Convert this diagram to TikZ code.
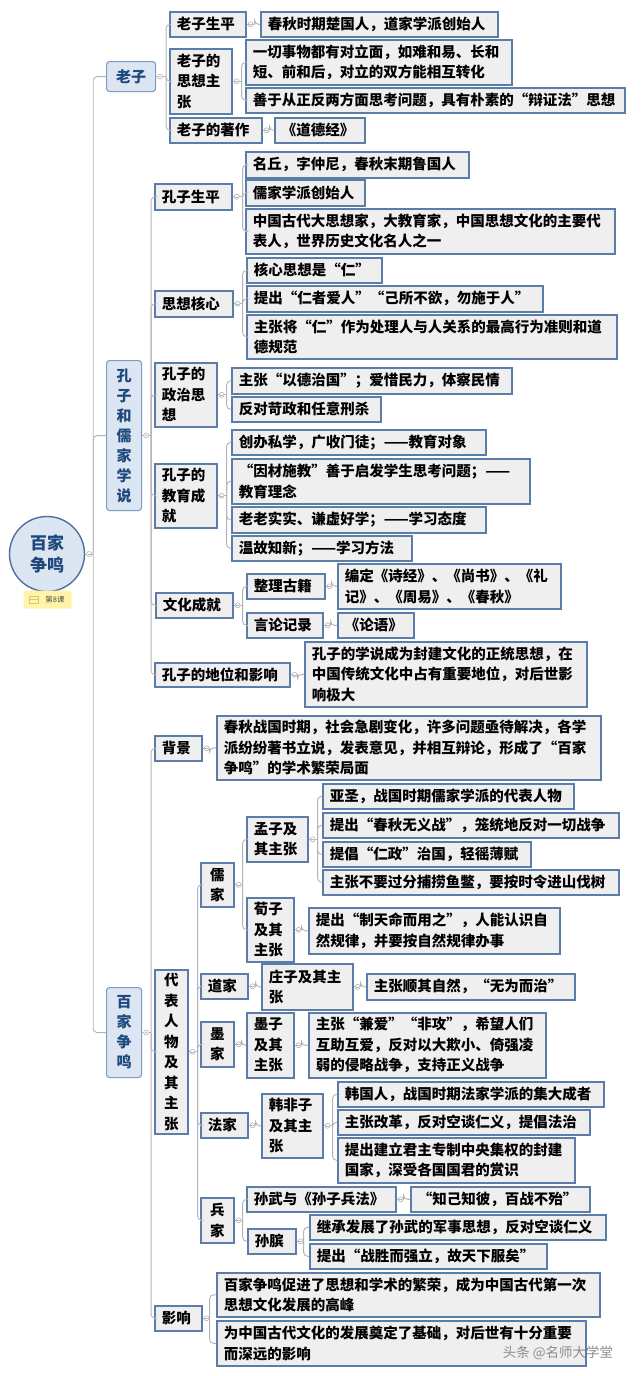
\documentclass[tikz,border=0pt]{standalone}
\usepackage{fontspec}
\setmainfont{Noto Sans CJK SC}
\usetikzlibrary{calc}
\definecolor{bordc}{HTML}{5B7DA8}
\definecolor{leaffill}{HTML}{EFEFEF}
\definecolor{lonefill}{HTML}{DCE6F2}
\definecolor{lonebord}{HTML}{7E9CC2}
\definecolor{lonetext}{HTML}{1F497D}
\definecolor{rootbord}{HTML}{4F6FA0}
\definecolor{connc}{HTML}{B4B4B4}
\definecolor{tagfill}{HTML}{FFF4A8}
\definecolor{tagicon}{HTML}{D8C778}
\tikzset{
  leaf/.style={draw=bordc, line width=1.6pt, fill=leaffill, inner xsep=7pt, inner ysep=0pt,
    align=left, font=\fontsize{14.5}{20.5}\selectfont\bfseries, text=black},
  vleaf/.style={leaf, align=center, inner xsep=0pt},
  lone/.style={draw=lonebord, line width=1.1pt, fill=lonefill, rounded corners=3pt,
    inner xsep=0pt, inner ysep=0pt, align=center, font=\fontsize{15}{20}\selectfont\bfseries, text=lonetext},
  rootnode/.style={circle, draw=rootbord, line width=1.4pt, fill=lonefill, minimum size=75pt,
    inner sep=0pt, align=center, font=\fontsize{17}{22}\selectfont\bfseries, text=lonetext},
  conn/.style={draw=connc, line width=0.9pt, rounded corners=4pt},
  knob/.style={circle, draw=connc, fill=white, line width=0.6pt, inner sep=0pt, minimum size=5pt,
    path picture={\draw[connc, line width=0.5pt] ([xshift=-1.3pt]path picture bounding box.center) -- ([xshift=1.3pt]path picture bounding box.center);}},
  tagbox/.style={draw=none, fill=tagfill, rounded corners=1.5pt, inner sep=0pt},
}
\newcommand\bx[7][leaf]{%
  \pgfmathsetmacro\bxw{#5-#3}%
  \pgfmathsetmacro\bxh{#6-#4}%
  \pgfmathsetmacro\bxt{#5-#3-14}%
  \node[#1, anchor=north west, minimum width=\bxw pt, minimum height=\bxh pt, text width=\bxt pt] (#2) at (#3,#4) {#7};}
\newcommand\link[3]{%
  \coordinate (#1-s) at ($(#1.east)+(#2,0)$);
  \draw[conn] (#1.east) -- (#1-s);
  \foreach \ch in {#3} { \draw[conn] (#1-s) |- (\ch.west); }
  \node[knob] at ($(#1.east)+(4,0)$) {};
}
\begin{document}
\begin{tikzpicture}[x=1pt,y=-1pt]
\fill[white] (0,0) rectangle (640,1376);
\useasboundingbox (0,0) rectangle (640,1376);

% root
\node[rootnode] (root) at (47,554) {百家\\争鸣};
\node[tagbox, minimum width=48pt, minimum height=18pt] (tag) at (47.5,599.5) {};
\node[font=\fontsize{7.5}{8}\selectfont, text=black!70] (tagtxt) at (55,599.5) {第8课};
\draw[tagicon, line width=0.7pt] (29.5,596) rectangle (38.5,603.5);
\draw[tagicon, line width=0.7pt] (29.5,599.7) -- (38.5,599.7);

% level 1
\bx[lone]{laozi}{106}{61}{155}{91}{老子}
\bx[lone]{kongzi}{106}{360}{141}{510}{孔\\子\\和\\儒\\家\\学\\说}
\bx[lone]{baijia}{106}{987}{141}{1077}{百\\家\\争\\鸣}

% Laozi
\bx{lzsp}{169}{11}{245}{36}{老子生平}
\bx{lzsp1}{260}{11}{497}{36}{春秋时期楚国人，道家学派创始人}
\bx{lzsx}{169}{48}{231}{113}{老子的\\思想主\\张}
\bx{lzsx1}{245}{39}{511}{84}{一切事物都有对立面，如难和易、长和\\短、前和后，对立的双方能相互转化}
\bx{lzsx2}{245}{87}{624}{112}{善于从正反两方面思考问题，具有朴素的“辩证法”思想}
\bx{lzzz}{169}{117}{261}{142}{老子的著作}
\bx{lzzz1}{274}{117}{364}{142}{《道德经》}

% Kongzi
\bx{kzsp}{154}{183}{231}{209}{孔子生平}
\bx{kzsp1}{245}{151}{468}{177}{名丘，字仲尼，春秋末期鲁国人}
\bx{kzsp2}{245}{179}{364}{205}{儒家学派创始人}
\bx{kzsp3}{245}{208}{614}{253}{中国古代大思想家，大教育家，中国思想文化的主要代\\表人，世界历史文化名人之一}
\bx{sxhx}{154}{290}{232}{316}{思想核心}
\bx{sxhx1}{246}{257}{381}{282}{核心思想是“仁”}
\bx{sxhx2}{246}{285}{542}{311}{提出“仁者爱人”“己所不欲，勿施于人”}
\bx{sxhx3}{246}{314}{616}{358}{主张将“仁”作为处理人与人关系的最高行为准则和道\\德规范}
\bx{zzsx}{154}{362}{216}{426}{孔子的\\政治思\\想}
\bx{zzsx1}{231}{367}{511}{393}{主张“以德治国”；爱惜民力，体察民情}
\bx{zzsx2}{231}{396}{380}{421}{反对苛政和任意刑杀}
\bx{jycj}{154}{463}{216}{527}{孔子的\\教育成\\就}
\bx{jycj1}{231}{429}{485}{454}{创办私学，广收门徒；——教育对象}
\bx{jycj2}{231}{458}{529}{503}{“因材施教”善于启发学生思考问题；——\\教育理念}
\bx{jycj3}{231}{506}{485}{532}{老老实实、谦虚好学；——学习态度}
\bx{jycj4}{231}{535}{411}{560}{温故知新；——学习方法}
\bx{whcj}{155}{592}{232}{617}{文化成就}
\bx{zlgj}{246}{573}{324}{598}{整理古籍}
\bx{zlgj1}{337}{563}{560}{608}{编定《诗经》、《尚书》、《礼\\记》、《周易》、《春秋》}
\bx{ylj}{246}{612}{322}{637}{言论记录}
\bx{ylj1}{337}{612}{413}{637}{《论语》}
\bx{dwyx}{154}{662}{289}{686}{孔子的地位和影响}
\bx{dwyx1}{304}{641}{586}{706}{孔子的学说成为封建文化的正统思想，在\\中国传统文化中占有重要地位，对后世影\\响极大}

% Baijia
\bx{bj}{154}{735}{201}{760}{背景}
\bx{bj1}{216}{715}{600}{779}{春秋战国时期，社会急剧变化，许多问题亟待解决，各学\\派纷纷著书立说，发表意见，并相互辩论，形成了“百家\\争鸣”的学术繁荣局面}
\bx[vleaf]{dbrw}{154}{969}{187}{1133}{代\\表\\人\\物\\及\\其\\主\\张}
\bx[vleaf]{rj}{200}{862}{233}{906}{儒\\家}
\bx{mz}{246}{816}{307}{861}{孟子及\\其主张}
\bx{mz1}{322}{783}{573}{808}{亚圣，战国时期儒家学派的代表人物}
\bx{mz2}{322}{812}{618}{837}{提出“春秋无义战”，笼统地反对一切战争}
\bx{mz3}{322}{841}{530}{866}{提倡“仁政”治国，轻徭薄赋}
\bx{mz4}{322}{869}{618}{894}{主张不要过分捕捞鱼鳖，要按时令进山伐树}
\bx{xz}{246}{897}{293}{961}{荀子\\及其\\主张}
\bx{xz1}{308}{907}{559}{953}{提出“制天命而用之”，人能认识自\\然规律，并要按自然规律办事}
\bx{dj}{200}{973}{247}{998}{道家}
\bx{zz}{261}{963}{352}{1009}{庄子及其主\\张}
\bx{zz1}{366}{973}{574}{999}{主张顺其自然，“无为而治”}
\bx[vleaf]{moj}{200}{1021}{233}{1066}{墨\\家}
\bx{moz}{246}{1012}{293}{1077}{墨子\\及其\\主张}
\bx{moz1}{308}{1012}{545}{1077}{主张“兼爱”“非攻”，希望人们\\互助互爱，反对以大欺小、倚强凌\\弱的侵略战争，支持正义战争}
\bx{fj}{200}{1112}{247}{1137}{法家}
\bx{hfz}{261}{1093}{322}{1157}{韩非子\\及其主\\张}
\bx{hfz1}{337}{1081}{603}{1106}{韩国人，战国时期法家学派的集大成者}
\bx{hfz2}{337}{1109}{589}{1134}{主张改革，反对空谈仁义，提倡法治}
\bx{hfz3}{337}{1137}{574}{1182}{提出建立君主专制中央集权的封建\\国家，深受各国国君的赏识}
\bx[vleaf]{bingj}{200}{1197}{233}{1242}{兵\\家}
\bx{sw}{246}{1186}{395}{1211}{孙武与《孙子兵法》}
\bx{sw1}{410}{1186}{589}{1211}{“知己知彼，百战不殆”}
\bx{sb}{247}{1228}{295}{1253}{孙膑}
\bx{sb1}{309}{1214}{605}{1239}{继承发展了孙武的军事思想，反对空谈仁义}
\bx{sb2}{309}{1243}{546}{1268}{提出“战胜而强立，故天下服矣”}
\bx{yx}{154}{1305}{201}{1330}{影响}
\bx{yx1}{216}{1272}{599}{1316}{百家争鸣促进了思想和学术的繁荣，成为中国古代第一次\\思想文化发展的高峰}
\bx{yx2}{216}{1320}{585}{1365}{为中国古代文化的发展奠定了基础，对后世有十分重要\\而深远的影响}

% connectors
\link{root}{8}{laozi,kongzi,baijia}
\link{laozi}{10}{lzsp,lzsx,lzzz}
\link{lzsp}{8}{lzsp1}
\link{lzsx}{9}{lzsx1,lzsx2}
\link{lzzz}{7}{lzzz1}
\link{kongzi}{9}{kzsp,sxhx,zzsx,jycj,whcj,dwyx}
\link{kzsp}{10}{kzsp1,kzsp2,kzsp3}
\link{sxhx}{9}{sxhx1,sxhx2,sxhx3}
\link{zzsx}{9}{zzsx1,zzsx2}
\link{jycj}{9}{jycj1,jycj2,jycj3,jycj4}
\link{whcj}{9}{zlgj,ylj}
\link{zlgj}{6}{zlgj1}
\link{ylj}{7}{ylj1}
\link{dwyx}{7}{dwyx1}
\link{baijia}{9}{bj,dbrw,yx}
\link{bj}{7}{bj1}
\link{dbrw}{9}{rj,dj,moj,fj,bingj}
\link{rj}{8}{mz,xz}
\link{mz}{9}{mz1,mz2,mz3,mz4}
\link{xz}{7}{xz1}
\link{dj}{7}{zz}
\link{zz}{7}{zz1}
\link{moj}{7}{moz}
\link{moz}{7}{moz1}
\link{fj}{7}{hfz}
\link{hfz}{9}{hfz1,hfz2,hfz3}
\link{bingj}{8}{sw,sb}
\link{sw}{7}{sw1}
\link{sb}{7}{sb1,sb2}
\link{yx}{7}{yx1,yx2}

% watermark
\node[font=\fontsize{13.5}{14}\selectfont, text=black!45] (wm) at (558,1353) {头条 @名师大学堂};
\end{tikzpicture}
\end{document}
